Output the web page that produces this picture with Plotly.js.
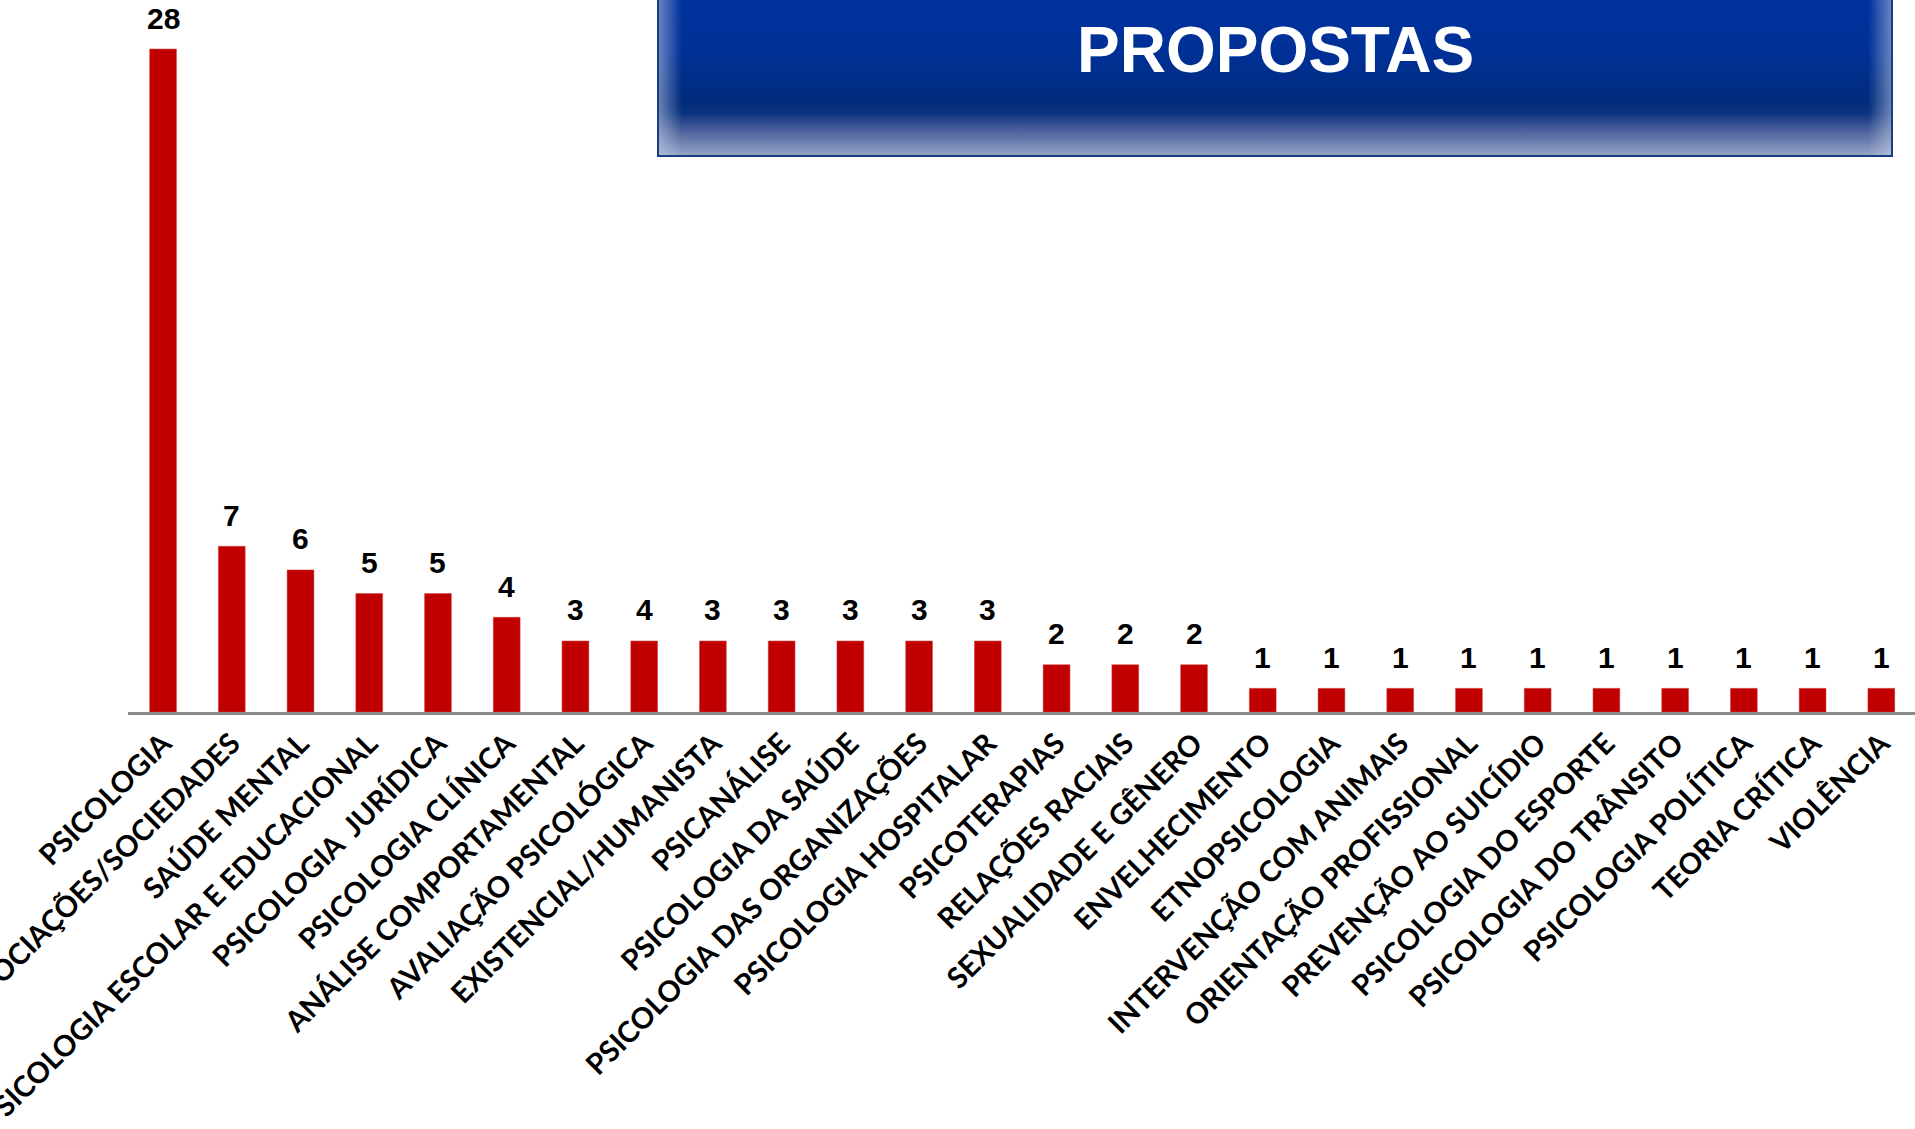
<!DOCTYPE html>
<html>
<head>
<meta charset="utf-8">
<script src="https://cdn.plot.ly/plotly-3.0.1.min.js"></script>
<style>html,body{margin:0;padding:0;background:#fff;overflow:hidden;}#chart{width:1915px;height:1129px;}</style>
</head>
<body>
<div id="chart"></div>
<script>
const categories = [
  "PSICOLOGIA",
  "ASSOCIAÇÕES/SOCIEDADES",
  "SAÚDE MENTAL",
  "PSICOLOGIA ESCOLAR E EDUCACIONAL",
  "PSICOLOGIA  JURÍDICA",
  "PSICOLOGIA CLÍNICA",
  "ANÁLISE COMPORTAMENTAL",
  "AVALIAÇÃO PSICOLÓGICA",
  "EXISTENCIAL/HUMANISTA",
  "PSICANÁLISE",
  "PSICOLOGIA DA SAÚDE",
  "PSICOLOGIA DAS ORGANIZAÇÕES",
  "PSICOLOGIA HOSPITALAR",
  "PSICOTERAPIAS",
  "RELAÇÕES RACIAIS",
  "SEXUALIDADE E GÊNERO",
  "ENVELHECIMENTO",
  "ETNOPSICOLOGIA",
  "INTERVENÇÃO COM ANIMAIS",
  "ORIENTAÇÃO PROFISSIONAL",
  "PREVENÇÃO AO SUICÍDIO",
  "PSICOLOGIA DO ESPORTE",
  "PSICOLOGIA DO TRÂNSITO",
  "PSICOLOGIA POLÍTICA",
  "TEORIA CRÍTICA",
  "VIOLÊNCIA"
];
const values = [28, 7, 6, 5, 5, 4, 3, 3, 3, 3, 3, 3, 3, 2, 2, 2, 1, 1, 1, 1, 1, 1, 1, 1, 1, 1];
const valueLabels = ["28", "7", "6", "5", "5", "4", "3", "4", "3", "3", "3", "3", "3", "2", "2", "2", "1", "1", "1", "1", "1", "1", "1", "1", "1", "1"];
const chartTitle = "PROPOSTAS";

const trace = {
  type: "bar",
  x: categories.map((c, i) => i),
  y: values,
  marker: { color: "#C00000", line: { color: "#D04040", width: 0.5 } },
  hoverinfo: "skip"
};

const valueAnnotations = values.map((v, i) => ({
  x: i, y: v, xref: "x", yref: "y",
  text: "<b>" + valueLabels[i] + "</b>",
  showarrow: false, yanchor: "middle", yshift: 31,
  font: { family: "Liberation Sans Narrow, Liberation Sans, Arial, sans-serif", size: 30, color: "#000" }
}));

const boxSvg = '<svg xmlns="http://www.w3.org/2000/svg" width="1235" height="170" viewBox="0 0 1235 170" preserveAspectRatio="none">' +
  '<defs>' +
  '<linearGradient id="v" x1="0" y1="0" x2="0" y2="1">' +
  '<stop offset="0" stop-color="#0033A0"/>' +
  '<stop offset="0.4" stop-color="#003096"/>' +
  '<stop offset="0.66" stop-color="#002C7C"/>' +
  '<stop offset="0.74" stop-color="#0A337F"/>' +
  '<stop offset="0.86" stop-color="#5468A0"/>' +
  '<stop offset="1" stop-color="#9AA8C8"/>' +
  '</linearGradient>' +
  '<linearGradient id="h" x1="0" y1="0" x2="1" y2="0">' +
  '<stop offset="0" stop-color="#C8D2E8" stop-opacity="0.55"/>' +
  '<stop offset="0.02" stop-color="#C8D2E8" stop-opacity="0"/>' +
  '<stop offset="0.98" stop-color="#C8D2E8" stop-opacity="0"/>' +
  '<stop offset="1" stop-color="#C8D2E8" stop-opacity="0.55"/>' +
  '</linearGradient>' +
  '</defs>' +
  '<rect x="0" y="0" width="1235" height="170" fill="url(#v)"/>' +
  '<rect x="0" y="0" width="1235" height="170" fill="url(#h)"/>' +
  '<rect x="1" y="-5" width="1233" height="174" fill="none" stroke="#1A3C80" stroke-width="2"/>' +
  '</svg>';

const plotW = 1787, plotH = 712;
const boxX0 = (657 - 128) / plotW, boxX1 = (1893 - 128) / plotW;
const boxBottom = 1 - 157 / plotH, boxTop = 1 + 13 / plotH;

const layout = {
  width: 1915, height: 1129,
  margin: { l: 128, r: 0, t: 0, b: 417, pad: 0 },
  paper_bgcolor: "#FFFFFF", plot_bgcolor: "#FFFFFF",
  showlegend: false,
  bargap: 0.61,
  xaxis: {
    type: "linear",
    range: [-0.51, 25.49],
    tickmode: "array",
    tickvals: categories.map((c, i) => i),
    ticktext: categories.map(c => "<b>" + c + "</b>"),
    tickangle: -45,
    ticklabeloverflow: "allow",
    tickfont: { family: "Lato, Open Sans, sans-serif", size: 29, color: "#000" },
    showline: true, linecolor: "#8C8C8C", linewidth: 3,
    showgrid: false, zeroline: false, ticks: "",
    automargin: false, fixedrange: true
  },
  yaxis: {
    range: [0, 30.07],
    visible: false, showgrid: false, zeroline: false, fixedrange: true
  },
  images: [{
    source: "data:image/svg+xml;charset=utf-8," + encodeURIComponent(boxSvg),
    xref: "paper", yref: "paper",
    x: boxX0, y: boxTop, sizex: boxX1 - boxX0, sizey: boxTop - boxBottom,
    xanchor: "left", yanchor: "top", sizing: "stretch", layer: "above"
  }],
  annotations: valueAnnotations.concat([{
    xref: "paper", yref: "paper",
    x: (1275 - 128) / plotW, y: 1 - 50 / plotH,
    xanchor: "center", yanchor: "middle",
    text: "<b>" + chartTitle + "</b>", showarrow: false,
    font: { family: "Liberation Sans, Arial, sans-serif", size: 64, color: "#FFFFFF" }
  }])
};

Plotly.newPlot("chart", [trace], layout, { displayModeBar: false, staticPlot: true });
</script>
</body>
</html>
